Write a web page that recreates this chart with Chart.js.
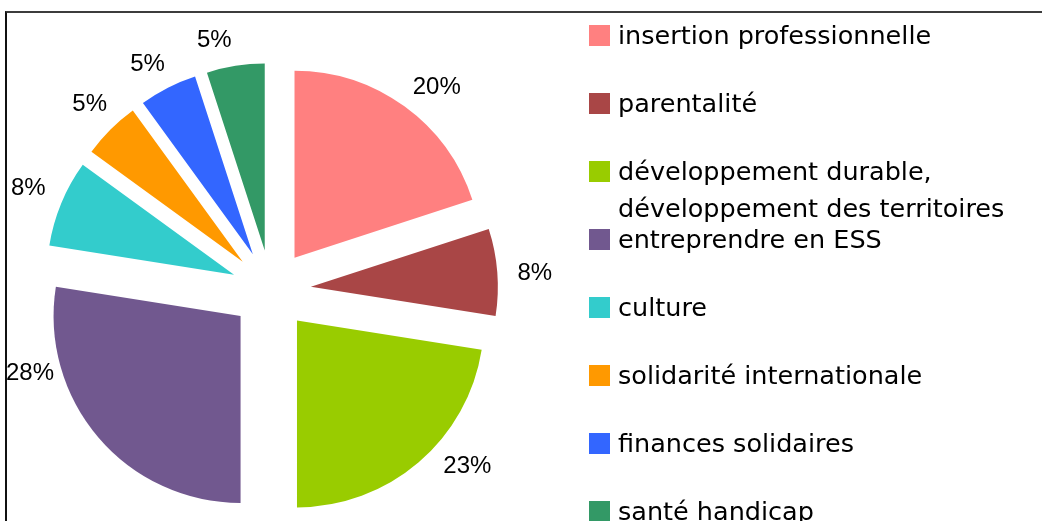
<!DOCTYPE html>
<html>
<head>
<meta charset="utf-8">
<script src="https://cdn.jsdelivr.net/npm/chart.js@4"></script>
<style>
  html, body { margin: 0; padding: 0; background: #fff; overflow: hidden; }
  #page { position: relative; width: 1042px; height: 521px; overflow: hidden; }
  #frame { position: absolute; left: 5px; top: 11px; width: 1040px; height: 520px;
           border-top: 2px solid #3c3c3c; border-left: 2px solid #111; }
  #wrap { position: absolute; left: 0; top: 0; width: 1042px; height: 521px; }
  #legend { position: absolute; left: 589px; top: 0; font-family: "DejaVu Sans", sans-serif;
            font-size: 25.5px; color: #000; }
  .item { position: absolute; left: 0; display: flex; align-items: flex-start; width: 445px; }
  .box { width: 21px; height: 21px; margin-top: 8px; flex: none; }
  .txt { margin-left: 8px; line-height: 37px; max-width: 415px; }
</style>
</head>
<body>
<div id="page">
  <div id="frame"></div>
  <div id="wrap"><canvas id="myChart"></canvas></div>
  <div id="legend"></div>
</div>
<script>
const categories = ['insertion professionnelle', 'parentalité',
    'développement durable, développement des territoires', 'entreprendre en ESS',
    'culture', 'solidarité internationale', 'finances solidaires', 'santé handicap'];
const counts = [8, 3, 9, 11, 3, 2, 2, 2];
const colors = ['#FF8080', '#A94646', '#99CC00', '#71588F', '#33CCCC', '#FF9900', '#3366FF', '#339966'];

// legend (html, on the right)
const legend = document.getElementById('legend');
categories.forEach((name, i) => {
    const row = document.createElement('div');
    row.className = 'item';
    row.style.top = (17 + 68 * i) + 'px';
    row.innerHTML = '<div class="box" style="background:' + colors[i] + '"></div><div class="txt">' + name + '</div>';
    legend.appendChild(row);
});

// push every slice out along its middle angle
const explode = {
    id: 'explode',
    afterDatasetsUpdate(chart, args, opts) {
        chart.getDatasetMeta(0).data.forEach(arc => {
            const mid = (arc.startAngle + arc.endAngle) / 2;
            arc.x += Math.cos(mid) * opts.distance;
            arc.y += Math.sin(mid) * opts.distance;
        });
    }
};

// percentage labels outside the slices
const pctLabels = {
    id: 'pctLabels',
    afterDatasetsDraw(chart, args, opts) {
        const ctx = chart.ctx;
        const data = chart.data.datasets[0].data;
        const total = data.reduce((a, b) => a + b, 0);
        ctx.save();
        ctx.font = opts.font;
        ctx.fillStyle = '#000';
        ctx.textAlign = 'center';
        ctx.textBaseline = 'middle';
        chart.getDatasetMeta(0).data.forEach((arc, i) => {
            const txt = Math.round(data[i] / total * 100) + '%';
            const mid = (arc.startAngle + arc.endAngle) / 2 + (opts.nudge[i] || 0) * Math.PI / 180;
            const w = ctx.measureText(txt).width;
            const h = 17;
            const d = arc.outerRadius + opts.gap;
            let x = arc.x + Math.cos(mid) * (d + w / 2);
            const y = arc.y + Math.sin(mid) * (d + h / 2);
            x = Math.max(x, 6 + w / 2);   // keep inside the frame
            ctx.fillText(txt, x, y);
        });
        ctx.restore();
    }
};

const ctx = document.getElementById('myChart').getContext('2d');
const myChart = new Chart(ctx, {
    type: 'pie',
    data: {
        labels: categories,
        datasets: [{
            data: counts,
            backgroundColor: colors,
            borderWidth: 0,
            radius: 187
        }]
    },
    options: {
        responsive: true,
        maintainAspectRatio: false,
        animation: false,
        events: [],
        layout: { padding: { left: 0, right: 500, top: 59, bottom: 0 } },
        plugins: {
            legend: { display: false },
            tooltip: { enabled: false },
            explode: { distance: 40 },
            pctLabels: {
                font: '24px "Liberation Sans", Arial, sans-serif',
                gap: 20,
                nudge: [2, 1, -7, 25, 1, 2, -1, -4]
            }
        }
    },
    plugins: [explode, pctLabels]
});
</script>
</body>
</html>
